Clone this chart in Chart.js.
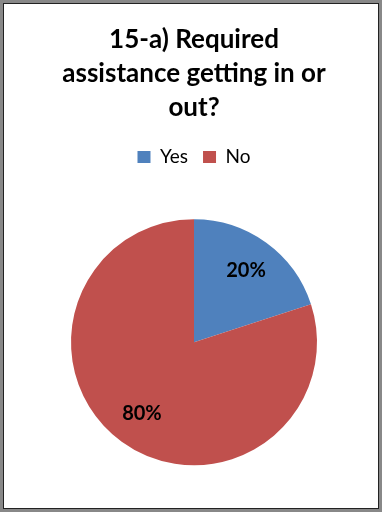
<!DOCTYPE html>
<html>
<head>
<meta charset="utf-8">
<script src="https://cdn.jsdelivr.net/npm/chart.js@4.4.1/dist/chart.umd.min.js"></script>
<style>
    html, body { margin: 0; padding: 0; background: #fff; }
    .frame {
        width: 382px;
        height: 512px;
        box-sizing: border-box;
        border: 3px solid #888;
        box-shadow: inset 0 0 0 1px #222;
        padding: 1px;
    }
    .chart-box { position: relative; width: 374px; height: 504px; }
</style>
</head>
<body>
<div class="frame">
    <div class="chart-box"><canvas id="chart"></canvas></div>
</div>
<script>
const titleLines = ['15-a) Required', 'assistance getting in or', 'out?'];
const categories = ['Yes', 'No'];
const shares = [20, 80];
const sliceColors = ['#4F81BD', '#C0504D'];

// writes the percentage of each slice inside it
const sliceLabels = {
    id: 'sliceLabels',
    afterDatasetsDraw(chart) {
        const ctx = chart.ctx;
        const meta = chart.getDatasetMeta(0);
        const values = chart.data.datasets[0].data;
        const total = values.reduce((a, b) => a + b, 0);
        ctx.save();
        ctx.font = 'bold 20px Lato';
        ctx.fillStyle = '#000';
        ctx.textAlign = 'center';
        ctx.textBaseline = 'middle';
        meta.data.forEach((arc, i) => {
            const p = arc.getProps(['x', 'y', 'startAngle', 'endAngle', 'outerRadius'], true);
            const mid = (p.startAngle + p.endAngle) / 2;
            const r = p.outerRadius * 0.72;
            const pct = Math.round(values[i] / total * 100) + '%';
            ctx.fillText(pct, p.x + Math.cos(mid) * r, p.y + Math.sin(mid) * r);
        });
        ctx.restore();
    }
};

const ctx = document.getElementById('chart').getContext('2d');
new Chart(ctx, {
    type: 'pie',
    data: {
        labels: categories,
        datasets: [{
            data: shares,
            backgroundColor: sliceColors,
            borderWidth: 0,
            radius: 123
        }]
    },
    options: {
        responsive: true,
        maintainAspectRatio: false,
        animation: false,
        layout: {
            padding: { left: 6, bottom: 0 }
        },
        plugins: {
            title: {
                display: true,
                text: titleLines,
                color: '#000',
                font: { family: 'Lato', size: 26, weight: 'bold', lineHeight: 1.3 },
                padding: { top: 19, bottom: 8 }
            },
            legend: {
                display: true,
                position: 'top',
                labels: {
                    color: '#000',
                    font: { family: 'Lato', size: 19 },
                    boxWidth: 13,
                    boxHeight: 12,
                    padding: 15
                }
            },
            tooltip: { enabled: false }
        }
    },
    plugins: [sliceLabels]
});
</script>
</body>
</html>
